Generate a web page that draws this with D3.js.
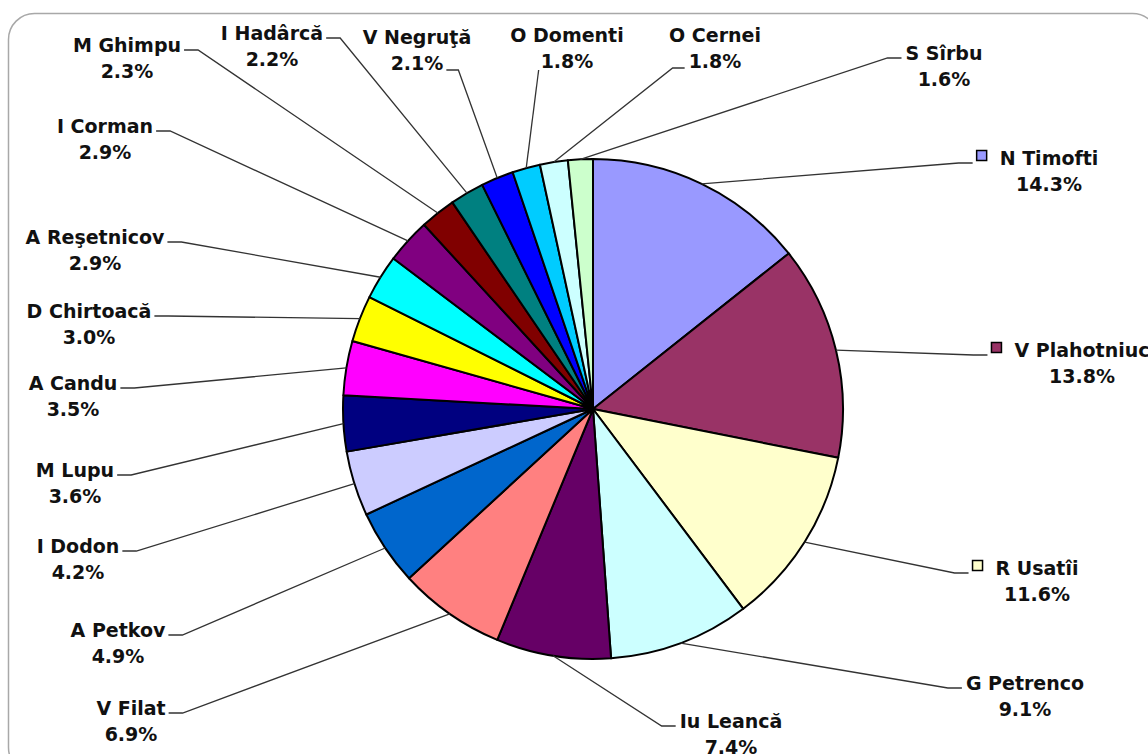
<!DOCTYPE html>
<html>
<head>
<meta charset="utf-8">
<script src="https://cdn.jsdelivr.net/npm/d3@7/dist/d3.min.js"></script>
<style>
  html, body { margin: 0; padding: 0; background: #fff; }
  svg { display: block; }
  text { font-family: "DejaVu Sans", Verdana, sans-serif; font-weight: bold; font-size: 19px; fill: #111; }
</style>
</head>
<body>
<svg id="chart" width="1148" height="754"></svg>
<script>
// ---- data ----
const names = ["N Timofti", "V Plahotniuc", "R Usatîi", "G Petrenco", "Iu Leancă", "V Filat",
  "A Petkov", "I Dodon", "M Lupu", "A Candu", "D Chirtoacă", "A Reşetnicov", "I Corman",
  "M Ghimpu", "I Hadârcă", "V Negruţă", "O Domenti", "O Cernei", "S Sîrbu"];
const values = [14.3, 13.8, 11.6, 9.1, 7.4, 6.9, 4.9, 4.2, 3.6, 3.5, 3.0, 2.9, 2.9,
  2.3, 2.2, 2.1, 1.8, 1.8, 1.6];
const colors = ["#9999FF", "#993366", "#FFFFCC", "#CCFFFF", "#660066", "#FF8080",
  "#0066CC", "#CCCCFF", "#000080", "#FF00FF", "#FFFF00", "#00FFFF", "#800080",
  "#800000", "#008080", "#0000FF", "#00CCFF", "#CCFFFF", "#CCFFCC"];
// which labels show a legend key
const showKey = [true, true, true, false, false, false, false, false, false, false,
  false, false, false, false, false, false, false, false, false];

// ---- label layout (centre x, first-line baseline, leader attach mode) ----
const labelX = [1049, 1082, 1037, 1025, 731, 131, 118, 78, 75, 73, 89, 95, 105, 127, 272, 417, 567, 715, 944];
const labelY = [165, 357, 575, 690, 728, 715, 637, 553, 477, 390, 318, 244, 133, 52, 40, 44, 42, 42, 60];
const attach = ["l1", "l1", "l1", "l1", "l1", "r1", "r1", "r1", "r1", "r1", "r1", "r1", "r1", "r1", "r1", "r2", "b2", "l2", "l1"];

const W = 1148, H = 754;
const cx = 593, cy = 409, R = 250;
const lineGap = 26;

const svg = d3.select("#chart");

// frame
svg.append("rect")
  .attr("x", 8.5).attr("y", 13.5)
  .attr("width", 1150).attr("height", 760)
  .attr("rx", 26).attr("ry", 26)
  .attr("fill", "#fff")
  .attr("stroke", "#a8a8a8").attr("stroke-width", 1.5);

const data = names.map((n, i) => ({ name: n, value: values[i], color: colors[i], i }));

const pie = d3.pie().value(d => d.value).sort(null);
const arcs = pie(data);
const arc = d3.arc().innerRadius(0).outerRadius(R);
const edgeArc = d3.arc().innerRadius(R).outerRadius(R);

const g = svg.append("g").attr("transform", `translate(${cx},${cy})`);

// leader lines group (drawn under labels, above frame)
const leaderG = svg.append("g");

g.selectAll("path.slice")
  .data(arcs)
  .join("path")
  .attr("class", "slice")
  .attr("d", arc)
  .attr("fill", d => d.data.color)
  .attr("stroke", "#000")
  .attr("stroke-width", 2)
  .attr("stroke-linejoin", "round");

const labelG = svg.append("g");

arcs.forEach((d, i) => {
  const x = labelX[i], y = labelY[i];
  const t1 = labelG.append("text")
    .attr("x", x).attr("y", y)
    .attr("text-anchor", "middle")
    .text(d.data.name);
  const t2 = labelG.append("text")
    .attr("x", x).attr("y", y + lineGap)
    .attr("text-anchor", "middle")
    .text(d.data.value.toFixed(1) + "%");
  const w1 = t1.node().getComputedTextLength();
  const w2 = t2.node().getComputedTextLength();
  let left1 = x - w1 / 2;
  if (showKey[i]) {
    const ks = 10;
    const kx = left1 - 13 - ks;
    labelG.append("rect")
      .attr("x", kx).attr("y", y - 14.5)
      .attr("width", ks).attr("height", ks)
      .attr("fill", d.data.color)
      .attr("stroke", "#000").attr("stroke-width", 1.5);
    left1 = kx;
  }
  let ax, ay, elbow;
  const mode = attach[i];
  if (mode === "l1") { ax = left1 - 4; ay = y - 2; elbow = -14; }
  else if (mode === "r1") { ax = x + w1 / 2 + 3; ay = y - 2; elbow = 14; }
  else if (mode === "r2") { ax = x + w2 / 2 + 3; ay = y + lineGap; elbow = 12; }
  else if (mode === "l2") { ax = x - w2 / 2 - 4; ay = y + lineGap; elbow = -12; }
  else { ax = x - w2 / 2 - 2; ay = y + lineGap + 2; elbow = 0; }
  const [ex, ey] = edgeArc.centroid(d);
  const pts = [[cx + ex, cy + ey], [ax + elbow, ay], [ax, ay]];
  leaderG.append("path")
    .attr("d", d3.line()(pts))
    .attr("fill", "none")
    .attr("stroke", "#333")
    .attr("stroke-width", 1.3);
});
</script>
</body>
</html>
